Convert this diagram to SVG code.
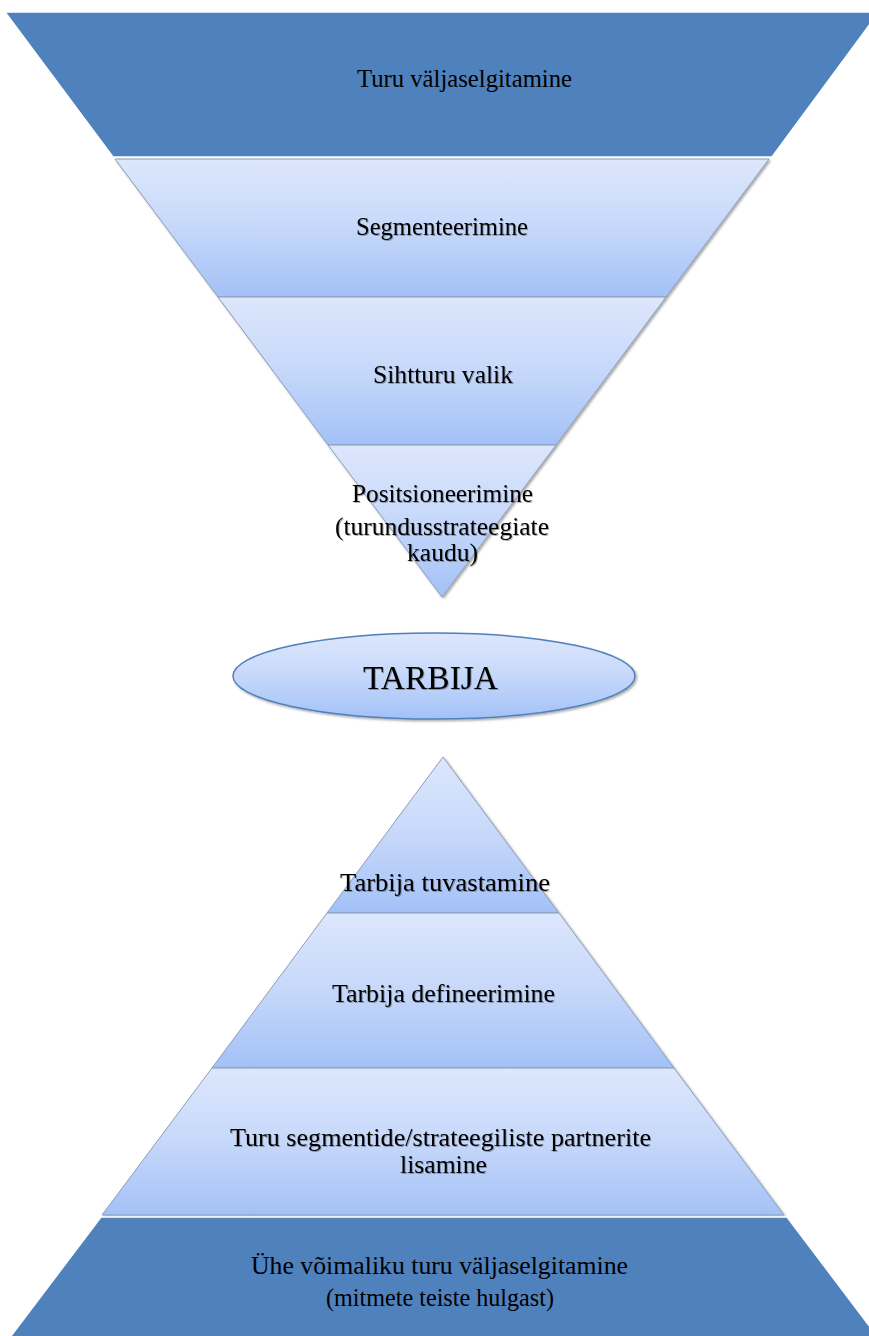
<svg xmlns="http://www.w3.org/2000/svg" width="869" height="1336" viewBox="0 0 869 1336">
  <defs>
    <linearGradient id="segGrad" x1="0" y1="0" x2="0" y2="1">
      <stop offset="0" stop-color="#dde7fc"/>
      <stop offset="0.5" stop-color="#c6d8fa"/>
      <stop offset="1" stop-color="#a3c1f7"/>
    </linearGradient>
    <filter id="shapeShadow" x="-10%" y="-10%" width="120%" height="120%">
      <feDropShadow dx="1.5" dy="1.5" stdDeviation="1" flood-color="#000" flood-opacity="0.35"/>
    </filter>
    <filter id="textShadow" x="-5%" y="-20%" width="110%" height="140%">
      <feDropShadow dx="1" dy="1" stdDeviation="0.7" flood-color="#000" flood-opacity="0.3"/>
    </filter>
  </defs>
  <style>
    .band { fill: #4f81bd; stroke: #ffffff; stroke-width: 1.5; }
    .seg { fill: url(#segGrad); stroke: #8c9db8; stroke-width: 1; }
    .lbl { font-family: "Liberation Serif", "Times New Roman", serif; font-size: 25px; fill: #000; text-anchor: middle; }
    .shd { filter: url(#textShadow); }
  </style>

  <g id="top-band">
    <polygon class="band" points="5,12 879,12 772,157 113,157"/>
    <text class="lbl" x="464.5" y="87" textLength="215" lengthAdjust="spacingAndGlyphs">Turu väljaselgitamine</text>
  </g>

  <g id="funnel" filter="url(#shapeShadow)">
    <g id="segmenteerimine">
      <polygon class="seg" points="115,159 769,159 666,297 218,297"/>
    </g>
    <g id="sihtturu-valik">
      <polygon class="seg" points="218,297 666,297 556,445 328,445"/>
    </g>
    <g id="positsioneerimine">
      <polygon class="seg" points="328,445 556,445 442,597"/>
    </g>
  </g>
  <g id="funnel-labels" class="shd">
    <text class="lbl" x="442" y="235" textLength="172" lengthAdjust="spacingAndGlyphs">Segmenteerimine</text>
    <text class="lbl" x="443" y="383" textLength="140" lengthAdjust="spacingAndGlyphs">Sihtturu valik</text>
    <text class="lbl" x="442.5" y="502" textLength="181" lengthAdjust="spacingAndGlyphs">Positsioneerimine</text>
    <text class="lbl" x="442" y="535" textLength="214" lengthAdjust="spacingAndGlyphs">(turundusstrateegiate</text>
    <text class="lbl" x="442.5" y="561" textLength="71" lengthAdjust="spacingAndGlyphs">kaudu)</text>
  </g>

  <g id="tarbija">
    <ellipse cx="434" cy="676" rx="201" ry="43" fill="url(#segGrad)" stroke="#4f81bd" stroke-width="1.5" filter="url(#shapeShadow)"/>
    <text class="lbl shd" x="430.5" y="689" style="font-size:33px" textLength="135" lengthAdjust="spacingAndGlyphs">TARBIJA</text>
  </g>

  <g id="pyramid" filter="url(#shapeShadow)">
    <g id="tarbija-tuvastamine">
      <polygon class="seg" points="443,757 559,913 327,913"/>
    </g>
    <g id="tarbija-defineerimine">
      <polygon class="seg" points="327,913 559,913 674,1068 212,1068"/>
    </g>
    <g id="turu-segmentide-lisamine">
      <polygon class="seg" points="212,1068 674,1068 784,1215 102,1215"/>
    </g>
  </g>
  <g id="pyramid-labels" class="shd">
    <text class="lbl" x="445" y="891" textLength="210" lengthAdjust="spacingAndGlyphs">Tarbija tuvastamine</text>
    <text class="lbl" x="443.5" y="1002" textLength="223" lengthAdjust="spacingAndGlyphs">Tarbija defineerimine</text>
    <text class="lbl" x="440.5" y="1146" textLength="421" lengthAdjust="spacingAndGlyphs">Turu segmentide/strateegiliste partnerite</text>
    <text class="lbl" x="443.5" y="1173" textLength="87" lengthAdjust="spacingAndGlyphs">lisamine</text>
  </g>

  <g id="bottom-band">
    <polygon class="band" points="101,1217 787,1217 880,1340 8,1340"/>
    <text class="lbl" x="439.5" y="1274" textLength="377" lengthAdjust="spacingAndGlyphs">Ühe võimaliku turu väljaselgitamine</text>
    <text class="lbl" x="440" y="1306" textLength="228" lengthAdjust="spacingAndGlyphs">(mitmete teiste hulgast)</text>
  </g>
</svg>
